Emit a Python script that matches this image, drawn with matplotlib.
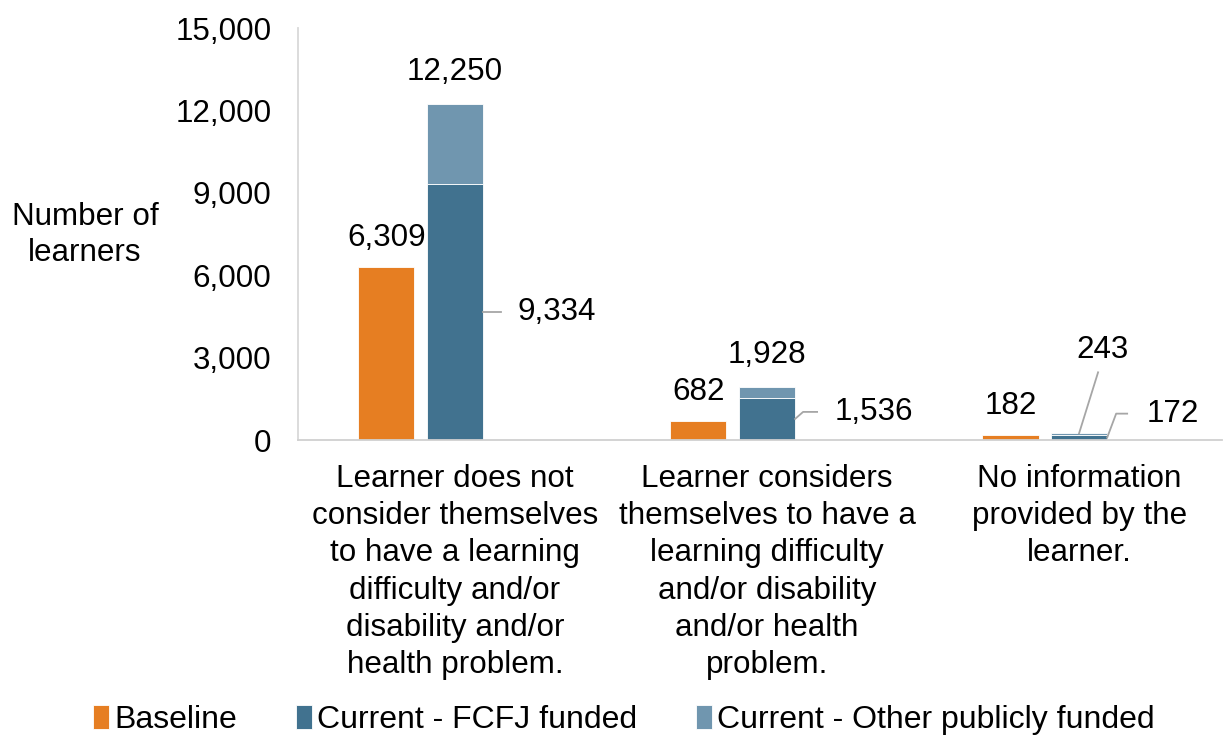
import matplotlib.pyplot as plt
from matplotlib.lines import Line2D
from matplotlib.transforms import IdentityTransform
import numpy as np

plt.rcParams['font.family'] = ['Liberation Sans', 'DejaVu Sans']

# Data
categories = ['Learner does not\nconsider themselves\nto have a learning\ndifficulty and/or\ndisability and/or\nhealth problem.',
              'Learner considers\nthemselves to have a\nlearning difficulty\nand/or disability\nand/or health\nproblem.',
              'No information\nprovided by the\nlearner.']
baseline = [6309, 682, 182]
fcfj = [9334, 1536, 172]
other = [2916, 392, 71]
series_names = ['Baseline', 'Current - FCFJ funded', 'Current - Other publicly funded']
colors = ['#E67E22', '#41728F', '#7096AF']

totals = [f + o for f, o in zip(fcfj, other)]
x = np.arange(len(categories))
w = 0.18
fs = 22.6
lc = '#A6A6A6'

fig = plt.figure(figsize=(12.23, 7.35), dpi=100)
ax = fig.add_axes([298 / 1223, 1 - 440 / 735, 924 / 1223, 412 / 735])

b1 = ax.bar(x - 0.22, baseline, w, color=colors[0], edgecolor='white', linewidth=0.6, label=series_names[0])
b2 = ax.bar(x, fcfj, w, color=colors[1], edgecolor='white', linewidth=0.6, label=series_names[1])
b3 = ax.bar(x, other, w, bottom=fcfj, color=colors[2], edgecolor='white', linewidth=0.6, label=series_names[2])

ax.set_xlim(-0.503, 2.458)
ax.set_ylim(0, 15000)
ax.set_yticks(range(0, 15001, 3000))
ax.set_yticklabels([f'{v:,}' for v in range(0, 15001, 3000)])
ax.set_xticks(x)
ax.set_xticklabels(categories, linespacing=1.32)
ax.tick_params(axis='both', length=0, labelsize=fs)
ax.tick_params(axis='y', pad=19)
ax.tick_params(axis='x', pad=17)

for s in ['top', 'right']:
    ax.spines[s].set_visible(False)
ax.spines['left'].set_color('#D9D9D9')
ax.spines['bottom'].set_color('#D0D0D0')
ax.spines['left'].set_linewidth(1.3)
ax.spines['bottom'].set_linewidth(1.3)


def leader(xy, offsets):
    # polyline starting at a data point, further points given as pixel offsets
    px, py = ax.transData.transform(xy)
    xs = [px] + [px + dx for dx, dy in offsets]
    ys = [py] + [py + dy for dx, dy in offsets]
    fig.add_artist(Line2D(xs, ys, transform=IdentityTransform(), color=lc, lw=1.3))


# baseline labels
for xi, v in zip(x, baseline):
    ax.annotate(f'{v:,}', (xi - 0.22, v), xytext=(0, 10), textcoords='offset points',
                ha='center', va='bottom', fontsize=fs)

# total labels (last one moved up with a leader line)
for i, (xi, t) in enumerate(zip(x, totals)):
    if i < 2:
        ax.annotate(f'{t:,}', (xi, t), xytext=(0, 12), textcoords='offset points',
                    ha='center', va='bottom', fontsize=fs)
    else:
        leader((xi, t), [(19, 61)])
        ax.annotate(f'{t:,}', (xi, t), xytext=(23, 83), textcoords='offset pixels',
                    ha='center', va='center', fontsize=fs)

# FCFJ labels with leader lines
fc_lines = [[(18, 0)], [(8, 7), (22, 7)], [(9, 24), (20, 24)]]
fc_text = [(34, 0), (40, 7), (39, 24)]
for xi, v, ln, off in zip(x, fcfj, fc_lines, fc_text):
    leader((xi + w / 2, v / 2), ln)
    ax.annotate(f'{v:,}', (xi + w / 2, v / 2), xytext=off, textcoords='offset pixels',
                ha='left', va='center', fontsize=fs)

fig.text(85 / 1223, 1 - 235 / 735, 'Number of\nlearners', ha='center', va='center',
         fontsize=fs, linespacing=1.3)

fig.legend(handles=[b1, b2, b3], labels=series_names, loc='center', bbox_to_anchor=(0.51, 1 - 720 / 735),
           ncol=3, frameon=False, fontsize=23, handlelength=0.5, handleheight=0.75,
           handletextpad=0.15, columnspacing=1.85)

plt.savefig('out.png', dpi=100)
plt.close()
